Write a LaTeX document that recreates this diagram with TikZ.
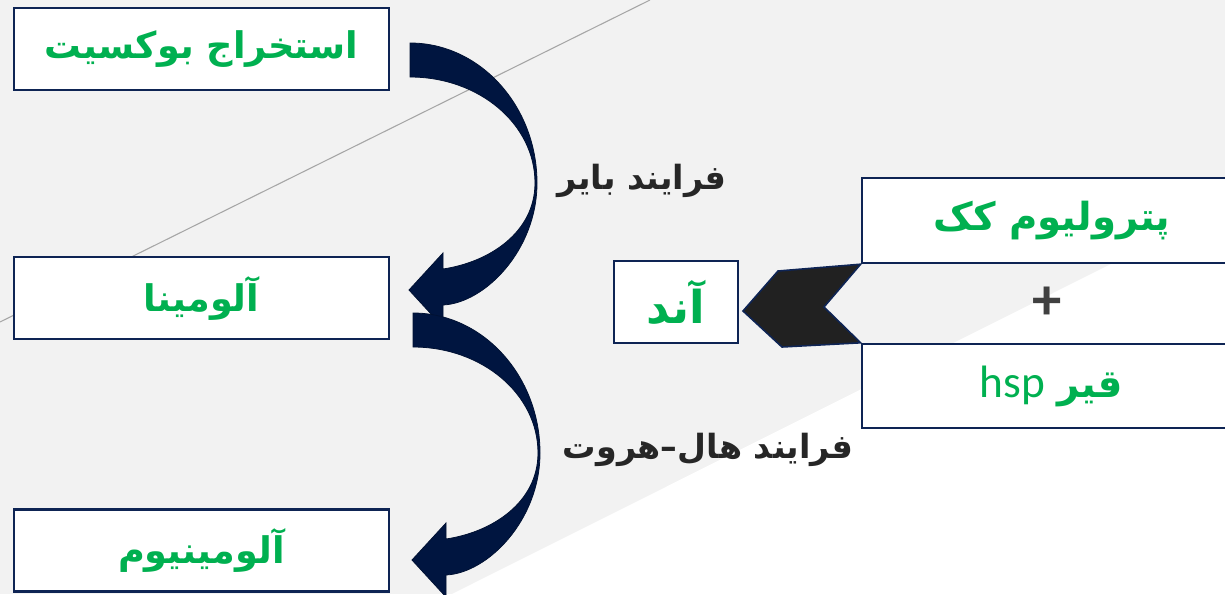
\documentclass[tikz,border=0pt]{standalone}
\usepackage{fontspec}
\setmainfont{DejaVu Sans}
\newfontfamily\arabicfont[Script=Arabic]{DejaVu Sans}
\newfontfamily\latinfont{Carlito}
\TeXXeTstate=1
\definecolor{bggrey}{HTML}{F2F2F2}
\definecolor{boxblue}{HTML}{0E2454}
\definecolor{arrowblue}{HTML}{001540}
\definecolor{textgreen}{HTML}{00B050}
\definecolor{textgrey}{HTML}{262626}
\tikzset{
  pics/bendarrow/.style={code={
    \filldraw[arrowblue, line width=0.6pt, draw=arrowblue!80!black]
      (0,0) .. controls (70,0) and (127,63) .. (127,140)
      .. controls (127,207) and (75,260) .. (33,262)
      -- (33,284) -- (-1,247) -- (33,210) -- (33,226)
      .. controls (80,219) and (125,189) .. (125,140)
      .. controls (125,81) and (69,34) .. (0,34) -- cycle;
  }}
}
\begin{document}
\begin{tikzpicture}[x=0.75pt,y=-0.75pt,
  stepbox/.style={draw=boxblue, line width=1.8pt, fill=white, inner sep=0pt,
    minimum width=281.25pt, minimum height=61.5pt},
  boxtext/.style={text=textgreen, font=\arabicfont\bfseries\fontsize{27.5}{32}\selectfont},
  proctext/.style={text=textgrey, font=\arabicfont\bfseries\fontsize{25}{30}\selectfont}]
% slide background
\clip (0,0) rectangle (1225,594);
\fill[bggrey] (0,0) rectangle (1225,594);
\fill[white] (452,594) -- (1225,207) -- (1225,594) -- cycle;
\draw[black!35, line width=0.8pt] (0,322) -- (650,0);
% left column
\node[stepbox, boxtext] (bauxite) at (201.5,49) {\beginR استخراج بوکسیت\endR};
\node[stepbox, boxtext] (alumina) at (201.5,298) {\beginR آلومینا\endR};
\node[stepbox, boxtext] (aluminium) at (201.5,550.5) {\beginR آلومینیوم\endR};
% curved arrows
\coordinate (bayerstart) at (410,43);
\coordinate (hallstart) at (413,313);
\pic at (bayerstart) {bendarrow};
\pic at (hallstart) {bendarrow};
\node[proctext] (bayer) at (642,181) {\beginR فرایند بایر\endR};
\node[proctext] (hall) at (708,450) {\beginR فرایند هال–هروت\endR};
% anode inputs
\node[stepbox, boxtext, minimum width=93pt, font=\arabicfont\bfseries\fontsize{34}{38}\selectfont] (anode) at (676,302) {\beginR آند\endR};
\node[stepbox, boxtext, minimum width=280pt, minimum height=63.75pt] (coke) at (1048.5,220.5) {};
\node[stepbox, boxtext, minimum width=280pt, minimum height=63pt] (pitch) at (1048.5,386) {};
\node[boxtext, font=\arabicfont\bfseries\fontsize{29}{34}\selectfont] at (1052,220.5) {\beginR پترولیوم کک\endR};
\node[text=textgreen, font=\arabicfont\fontsize{29}{34}\selectfont] at (1051,386)
  {\beginR\textbf{قیر} \beginL\latinfont\fontsize{34}{38}\selectfont hsp\endL\endR};
\node[text=black!75, font=\latinfont\bfseries\fontsize{44}{48}\selectfont] (plus) at (1047,303) {+};
\filldraw[fill=black!87, draw=boxblue, line width=1.2pt]
  (778,271) -- (coke.south west) -- (824,307) -- (pitch.north west)
  -- (782,347) -- (743,311) -- cycle;
\end{tikzpicture}
\end{document}
